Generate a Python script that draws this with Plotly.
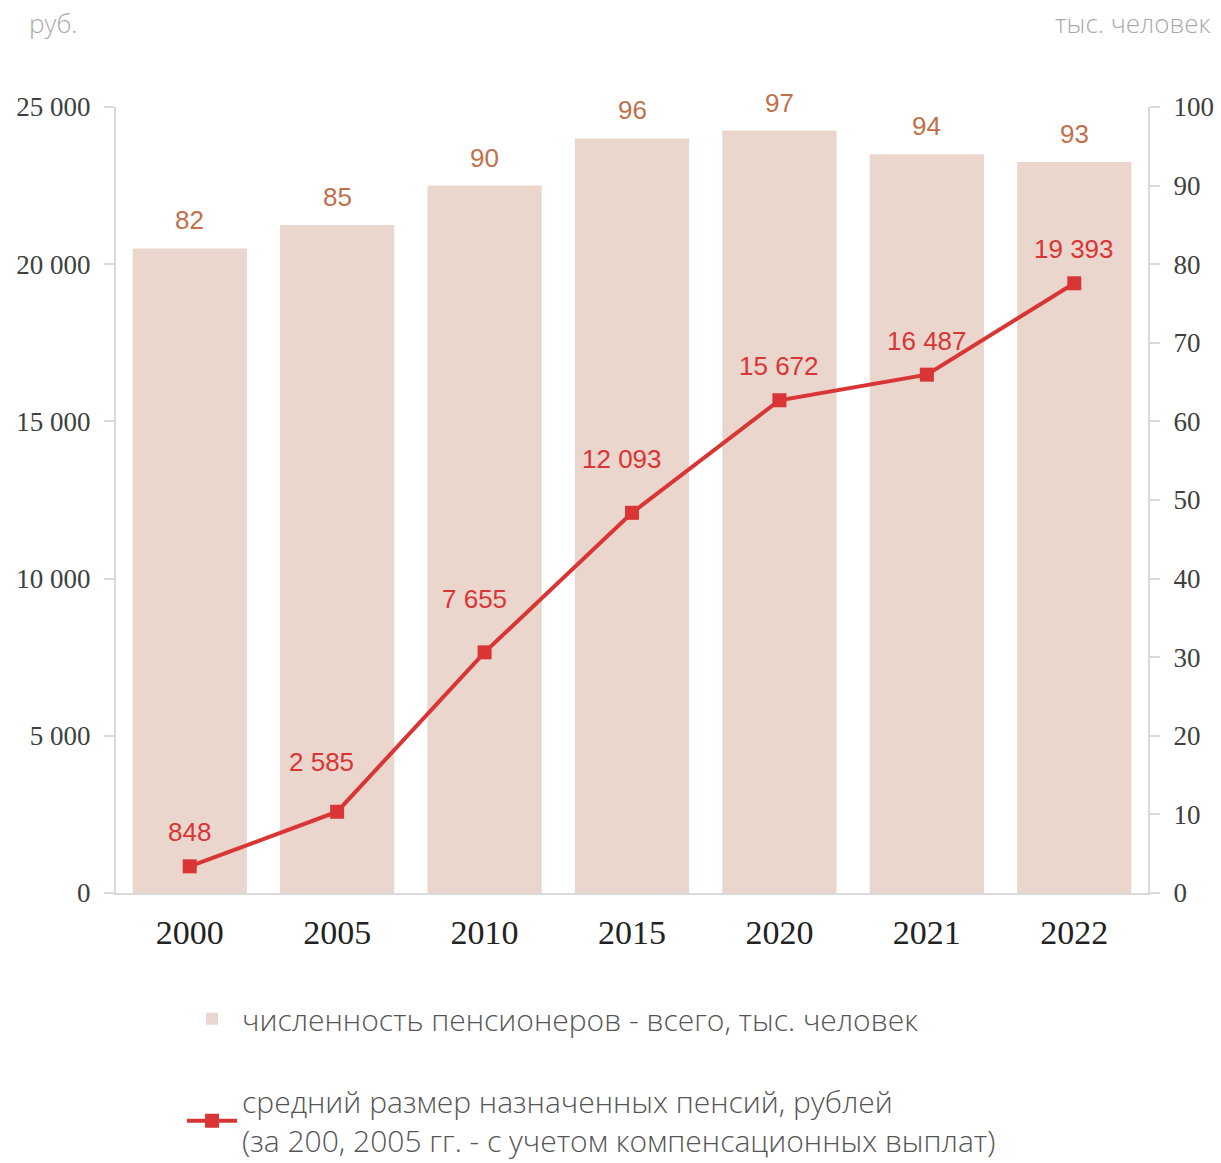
import plotly.graph_objects as go

years = ["2000", "2005", "2010", "2015", "2020", "2021", "2022"]
pensioners = [82, 85, 90, 96, 97, 94, 93]
pension_size = [848, 2585, 7655, 12093, 15672, 16487, 19393]
label_xshift = [0, -16, -10, -10, 0, 0, 0]
label_yshift = [34, 50, 53, 54, 34, 34, 34]

bar_name = "численность пенсионеров - всего, тыс. человек"
line_name = "средний размер назначенных пенсий, рублей<br>(за 200, 2005 гг. - с учетом компенсационных выплат)"

tick_font = dict(family="Liberation Serif", size=27, color="#404040")
legend_font = dict(family="Open Sans", size=30, color="#555555", weight=300)

fig = go.Figure()
fig.add_trace(go.Bar(
    x=years, y=pensioners, name=bar_name, yaxis="y",
    marker=dict(color="#EAD6CD", line=dict(width=0)),
    legend="legend",
))
fig.add_trace(go.Scatter(
    x=years, y=pension_size, name=line_name, yaxis="y2",
    mode="lines+markers",
    line=dict(color="#D93535", width=4),
    marker=dict(symbol="square", size=14, color="#D93535"),
    legend="legend2", cliponaxis=False,
))
for i, v in enumerate(pensioners):
    fig.add_annotation(
        x=i, y=v, xref="x", yref="y", text=str(v),
        showarrow=False, yshift=28,
        font=dict(family="Liberation Sans", size=26, color="#C0714A"),
    )
for i, (v, dx, dy) in enumerate(zip(pension_size, label_xshift, label_yshift)):
    fig.add_annotation(
        x=i, y=v, xref="x", yref="y2", text=f"{v:,}".replace(",", " "),
        showarrow=False, yshift=dy, xshift=dx,
        font=dict(family="Liberation Sans", size=26, color="#D93535"),
    )

fig.add_annotation(xref="paper", yref="paper", x=-0.086, y=1.107, xanchor="left", yanchor="middle",
                   text="руб.", showarrow=False,
                   font=dict(family="Open Sans", size=26, color="#AAAAAA", weight=300))
fig.add_annotation(xref="paper", yref="paper", x=1.062, y=1.107, xanchor="right", yanchor="middle",
                   text="тыс. человек", showarrow=False,
                   font=dict(family="Open Sans", size=26, color="#AAAAAA", weight=300))

fig.update_layout(
    width=1221, height=1163,
    margin=dict(l=116, r=73, t=107, b=270, autoexpand=False),
    plot_bgcolor="white", paper_bgcolor="white",
    separators=", ",
    bargap=0.225,
    xaxis=dict(type="category", showline=True, linecolor="#D9D9D9", linewidth=2, ticks="",
               tickfont=dict(family="Liberation Serif", size=34, color="#222222"),
               ticklabelstandoff=8, showgrid=False, automargin=False),
    yaxis=dict(side="right", range=[0, 100], dtick=10, showgrid=False, zeroline=False,
               showline=True, linecolor="#D9D9D9", linewidth=2,
               ticks="outside", ticklen=10, tickcolor="#D9D9D9", tickwidth=2,
               tickfont=tick_font, ticklabelstandoff=8, automargin=False),
    yaxis2=dict(side="left", overlaying="y", range=[0, 25000], dtick=5000, showgrid=False,
                zeroline=False, showline=True, linecolor="#D9D9D9", linewidth=2,
                ticks="outside", ticklen=10, tickcolor="#D9D9D9", tickwidth=2,
                tickformat=",d", tickfont=tick_font, ticklabelstandoff=8, automargin=False),
    legend=dict(x=0.064, y=-0.127, xanchor="left", yanchor="top", font=legend_font,
                bgcolor="rgba(0,0,0,0)", itemwidth=50),
    legend2=dict(x=0.064, y=-0.232, xanchor="left", yanchor="top", font=legend_font,
                 bgcolor="rgba(0,0,0,0)", itemwidth=50),
    showlegend=True,
)

fig.write_html("out.html", config={"displayModeBar": False},
               post_script="document.body.style.margin='0';")
